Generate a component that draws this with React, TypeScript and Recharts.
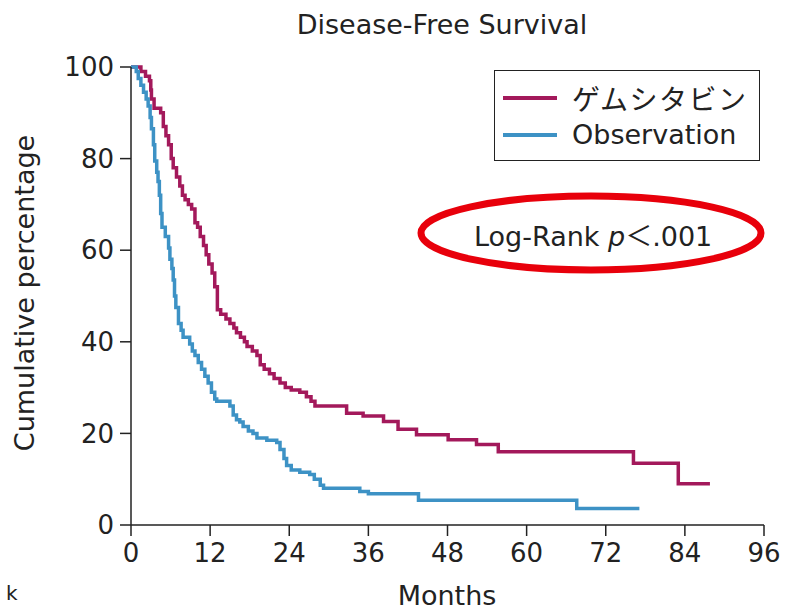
import React from 'react';
import { LineChart, Line, XAxis, YAxis, Legend } from 'recharts';

const title = 'Disease-Free Survival';
const xLabel = 'Months';
const yLabel = 'Cumulative percentage';
const annotation = 'Log-Rank ';
const seriesNames = ['ゲムシタビン', 'Observation'];
const xTicks = [0, 12, 24, 36, 48, 60, 72, 84, 96];
const yTicks = [0, 20, 40, 60, 80, 100];

const gemMonths = [0, 1.5, 2.2, 2.8, 3.0, 3.1, 3.5, 4.5, 4.9, 5.3, 5.7, 6.1, 6.4, 6.9, 7.4, 7.8, 8.2, 8.7, 9.2, 9.7, 10.1, 10.5, 11.0, 11.4, 11.8, 12.3, 12.7, 13.1, 13.6, 14.4, 15.0, 15.6, 16.0, 16.6, 17.2, 17.6, 18.4, 19.1, 19.6, 20.2, 21.0, 21.7, 22.6, 23.4, 24.3, 25.6, 26.6, 27.3, 27.9, 32.7, 35.2, 38.3, 40.5, 43.3, 48.1, 52.4, 55.7, 76.2, 83.0, 87.8];
const gemValues = [100, 99, 98, 97, 95, 93, 91, 90, 87, 85, 83, 80, 78, 76, 74, 72, 71, 70, 69, 66, 65, 63, 61, 59, 57, 55, 52, 47, 46, 45, 44, 43, 42, 41, 40, 39, 38, 37, 35, 34, 33, 32, 31, 30, 29.5, 29, 28, 27, 26, 24.4, 23.8, 22.6, 20.9, 19.7, 18.6, 17.6, 16, 13.5, 9, 9];

const obsMonths = [0, 0.8, 1.1, 1.5, 1.9, 2.3, 2.6, 2.9, 3.1, 3.4, 3.6, 3.9, 4.1, 4.3, 4.5, 4.7, 5.2, 5.7, 5.9, 6.2, 6.4, 6.6, 6.8, 7.2, 7.6, 7.9, 8.9, 9.3, 9.7, 10.2, 10.7, 11.2, 11.7, 12.2, 12.7, 13.0, 15.0, 15.5, 16.0, 16.5, 17.0, 17.8, 18.5, 19.1, 20.6, 22.1, 22.6, 23.2, 23.6, 24.3, 25.6, 27.1, 27.8, 28.7, 29.2, 34.7, 36.0, 43.6, 67.6, 77.1];
const obsValues = [100, 99, 97.5, 96, 94.5, 93, 91.5, 89, 86.5, 83, 79.5, 77, 75, 72, 68, 65, 63, 60.5, 58, 56, 53.5, 50, 47.5, 44, 42.5, 41, 39.5, 38, 37, 35.5, 34, 32.5, 31, 29, 27.5, 27, 26, 24, 23, 22.5, 21.5, 20.5, 20, 19, 18.5, 18, 16.5, 14.5, 13, 12, 11.5, 11, 10, 8.7, 8, 7.3, 6.8, 5.4, 3.6, 3.6];

const gemData = gemMonths.map((m, i) => ({ m, v: gemValues[i] }));
const obsData = obsMonths.map((m, i) => ({ m, v: obsValues[i] }));

const GEM = '#a3195b';
const OBS = '#3d92c5';
const FONT = '"DejaVu Sans", sans-serif';

const LegendBox = () => (
  <div
    style={{
      width: 266,
      height: 91,
      border: '1.5px solid #222',
      background: '#fff',
      fontFamily: FONT,
      fontSize: 27,
      color: '#222',
      boxSizing: 'border-box',
      paddingTop: 8,
    }}
  >
    {seriesNames.map((n, i) => (
      <div key={n} style={{ display: 'flex', alignItems: 'center', height: 37 }}>
        <div style={{ width: 54, height: 4, marginLeft: 8, background: i === 0 ? GEM : OBS }} />
        <span
          style={{
            marginLeft: 15,
            fontFamily: i === 0 ? '"Noto Sans CJK JP", sans-serif' : FONT,
            letterSpacing: i === 0 ? 1.5 : 0,
            fontSize: i === 0 ? 28 : 27,
          }}
        >
          {n}
        </span>
      </div>
    ))}
  </div>
);

export default function App() {
  return (
    <div style={{ position: 'absolute', left: 0, top: 0, width: 786, height: 610, background: '#fff', overflow: 'hidden' }}>
      <LineChart
        width={786}
        height={610}
        margin={{ top: 67, right: 22, bottom: 45, left: 71 }}
        style={{ fontFamily: FONT }}
      >
        <XAxis
          type="number"
          dataKey="m"
          domain={[0, 96]}
          ticks={xTicks}
          height={40}
          allowDuplicatedCategory={false}
          stroke="#222"
          strokeWidth={1.5}
          tickSize={11}
          tickMargin={8}
          tick={{ fill: '#222', fontSize: 26, fontFamily: FONT }}
          interval={0}
        />
        <YAxis
          type="number"
          dataKey="v"
          domain={[0, 100]}
          ticks={yTicks}
          width={60}
          stroke="#222"
          strokeWidth={1.5}
          tickSize={11}
          tickMargin={6}
          tick={{ fill: '#222', fontSize: 26, fontFamily: FONT }}
          interval={0}
        />
        <Line
          data={gemData}
          dataKey="v"
          type="stepAfter"
          stroke={GEM}
          strokeWidth={3.5}
          dot={false}
          isAnimationActive={false}
          name={seriesNames[0]}
        />
        <Line
          data={obsData}
          dataKey="v"
          type="stepAfter"
          stroke={OBS}
          strokeWidth={3.5}
          dot={false}
          isAnimationActive={false}
          name={seriesNames[1]}
        />
        <Legend
          content={() => <LegendBox />}
          wrapperStyle={{ position: 'absolute', left: 494, top: 70, width: 0, height: 0, overflow: 'visible' }}
        />
        <text x={442} y={34} textAnchor="middle" fontSize={27} fill="#222" fontFamily={FONT}>
          {title}
        </text>
        <text x={447} y={605} textAnchor="middle" fontSize={27} fill="#222" fontFamily={FONT}>
          {xLabel}
        </text>
        <text
          x={24}
          y={293}
          textAnchor="middle"
          dominantBaseline="central"
          fontSize={27}
          fill="#222"
          fontFamily={FONT}
          transform="rotate(-90 24 293)"
        >
          {yLabel}
        </text>
        <text x={6} y={600} fontSize={20} fill="#222" fontFamily={FONT}>k</text>
        <ellipse cx={591} cy={233} rx={170} ry={37} fill="none" stroke="#e8000b" strokeWidth={7} />
        <text x={474} y={246} fontSize={27} fill="#222" fontFamily={FONT}>
          {annotation}
          <tspan fontStyle="italic">p</tspan>
          <tspan fontFamily='"Noto Sans CJK JP", sans-serif'>＜</tspan>
          <tspan>.001</tspan>
        </text>
      </LineChart>
    </div>
  );
}
